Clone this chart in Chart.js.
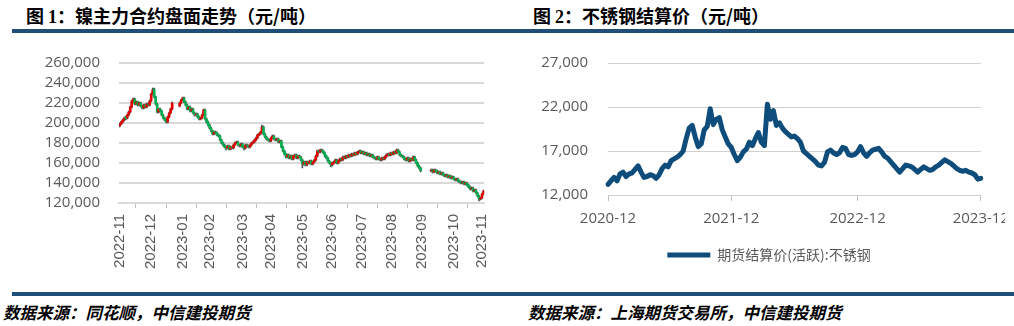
<!DOCTYPE html>
<html lang="zh-CN">
<head>
<meta charset="utf-8">
<title>镍主力合约与不锈钢结算价</title>
<script src="https://cdn.jsdelivr.net/npm/chart.js@4.4.0/dist/chart.umd.min.js"></script>
<style>
  html, body { margin: 0; padding: 0; background: #fff; }
  body { width: 1014px; height: 326px; position: relative; overflow: hidden; font-family: "Noto Sans CJK SC", sans-serif; }
  .title { position: absolute; top: 2px; font-size: 18px; font-weight: bold; color: #000; line-height: 26px; white-space: nowrap; }
  .title .num { font-family: "Liberation Serif", serif; }
  .rule { position: absolute; left: 12px; width: 1002px; height: 4px; background: #1F4E79; }
  .source { position: absolute; top: 300px; font-size: 16.5px; font-weight: bold; font-style: italic; color: #000; line-height: 24px; white-space: nowrap; }
  .chart-box { position: absolute; overflow: hidden; }
  canvas { display: block; }
</style>
</head>
<body>
<div class="title" style="left:26px">图 <span class="num">1</span>：镍主力合约盘面走势（元/吨）</div>
<div class="title" style="left:533px">图 <span class="num">2</span>：不锈钢结算价（元/吨）</div>
<div class="rule" style="top:29px"></div>

<div class="chart-box" style="left:20px; top:54px; width:486px; height:226px">
  <canvas id="chart-nickel" width="486" height="226"></canvas>
</div>
<div class="chart-box" style="left:520px; top:54px; width:485px; height:218px">
  <canvas id="chart-steel" width="498" height="218"></canvas>
</div>

<div class="rule" style="top:292px"></div>
<div class="source" style="left:3px">数据来源：同花顺，中信建投期货</div>
<div class="source" style="left:528px">数据来源：上海期货交易所，中信建投期货</div>

<script>
// 镍主力合约 日K（千元/吨），null 为休市空档
const nickelOpen = [
  197, 199, 201, 203, 206, 205, 208, 211, 216, 221,
  224, 219, 221, 218, 220, 217, 215, 218, 216, 219,
  218, 222, 229, 234, 226, 219, 211, 214, 212, 208,
  205, 203, 201, 206, 210, 214, null, null, null, null,
  217, 220, 223, 225, 221, 218, 214, 216, 212, 214,
  210, 208, 209, 206, 204, 205, 208, 213, 204, 201,
  198, 195, 192, 189, 191, 190, 188, 187, 183, 180,
  178, 176, 175, 177, 174, 176, 175, 178, 180, 181,
  178, 177, 179, 176, 175, 178, 177, 176, 178, 180,
  181, 183, 185, 188, 189, 191, 196, 189, 186, 184,
  183, 182, 185, 187, 184, 183, 184, 181, 182, 176,
  172, 169, 166, 168, 165, 167, 164, 167, 168, 165,
  167, 166, 163, 159, 161, 158, 161, 160, 162, 159,
  161, 163, 167, 172, 171, 173, 172, 170, 167, 165,
  162, 160, 158, 160, 161, 163, 160, 162, 164, 163,
  166, 165, 167, 166, 168, 167, 169, 168, 170, 169,
  171, 172, 170, 171, 169, 170, 168, 169, 167, 168,
  166, 165, 164, 166, 164, 163, 165, 164, 166, 168,
  169, 168, 170, 169, 171, 170, 173, 171, 168, 167,
  166, 164, 163, 165, 162, 164, 163, 166, 163, 160,
  157, 155, null, null, null, null, null, null, 152, 153,
  151, 153, 152, 150, 151, 149, 150, 148, 147, 148,
  146, 147, 145, 146, 144, 143, 144, 142, 141, 140,
  141, 139, 140, 138, 136, 134, 135, 132, 133, 130,
  127, 124, 125, 129,
];
const nickelClose = [
  199, 201, 203, 205, 204, 208, 211, 216, 222, 224,
  219, 221, 218, 220, 217, 215, 218, 216, 219, 218,
  222, 229, 233, 226, 219, 211, 214, 212, 208, 205,
  203, 201, 206, 210, 214, 220, null, null, null, null,
  220, 223, 225, 221, 218, 214, 216, 212, 214, 210,
  208, 209, 206, 204, 205, 208, 213, 204, 201, 198,
  195, 192, 189, 191, 190, 188, 187, 183, 180, 178,
  176, 175, 177, 174, 176, 175, 178, 180, 181, 178,
  177, 179, 176, 175, 178, 177, 176, 178, 180, 181,
  183, 185, 188, 189, 191, 196, 189, 186, 184, 183,
  182, 185, 187, 184, 183, 184, 181, 182, 176, 172,
  169, 166, 168, 165, 167, 164, 167, 168, 165, 167,
  166, 163, 159, 161, 158, 161, 160, 162, 159, 161,
  163, 167, 172, 171, 173, 172, 170, 167, 165, 162,
  160, 158, 160, 161, 163, 160, 162, 164, 163, 166,
  165, 167, 166, 168, 167, 169, 168, 170, 169, 171,
  172, 170, 171, 169, 170, 168, 169, 167, 168, 166,
  165, 164, 166, 164, 163, 165, 164, 166, 168, 169,
  168, 170, 169, 171, 170, 173, 171, 168, 167, 166,
  164, 163, 165, 162, 164, 163, 166, 163, 160, 157,
  155, 152, null, null, null, null, null, null, 153, 151,
  153, 152, 150, 151, 149, 150, 148, 147, 148, 146,
  147, 145, 146, 144, 143, 144, 142, 141, 140, 141,
  139, 140, 138, 136, 134, 135, 132, 133, 130, 127,
  124, 125, 129, 132,
];
const nickelHigh = [
  200, 202, 204, 206, 207, 209, 212, 217, 223, 225,
  225, 222, 222, 221, 221, 218, 219, 219, 220, 220,
  223, 230, 235, 235, 227, 220, 215, 215, 213, 209,
  206, 204, 207, 211, 215, 221, null, null, null, null,
  221, 224, 226, 226, 222, 219, 217, 217, 215, 215,
  211, 210, 210, 207, 206, 209, 214, 214, 205, 202,
  199, 196, 193, 192, 192, 191, 189, 188, 184, 181,
  179, 177, 178, 178, 177, 177, 179, 181, 182, 182,
  179, 180, 180, 177, 179, 179, 178, 179, 181, 182,
  184, 186, 189, 190, 192, 198, 197, 190, 187, 185,
  184, 186, 188, 188, 185, 185, 185, 183, 183, 177,
  173, 170, 169, 169, 168, 168, 168, 169, 169, 168,
  168, 167, 164, 162, 162, 162, 162, 163, 163, 162,
  164, 168, 173, 173, 174, 174, 173, 171, 168, 166,
  163, 161, 161, 162, 164, 164, 163, 165, 165, 167,
  167, 168, 168, 169, 169, 170, 170, 171, 171, 172,
  173, 173, 172, 172, 171, 171, 170, 170, 169, 169,
  167, 166, 167, 167, 165, 166, 166, 167, 169, 170,
  170, 171, 171, 172, 172, 174, 174, 172, 169, 168,
  167, 165, 166, 166, 165, 165, 167, 167, 164, 161,
  158, 156, null, null, null, null, null, null, 154, 154,
  154, 154, 153, 152, 152, 151, 151, 149, 149, 149,
  148, 148, 147, 147, 145, 145, 145, 143, 142, 142,
  142, 141, 141, 139, 137, 136, 136, 134, 134, 131,
  128, 126, 130, 133,
];
const nickelLow = [
  196, 198, 200, 202, 203, 204, 207, 210, 215, 220,
  218, 218, 217, 217, 216, 214, 214, 215, 215, 217,
  217, 221, 228, 225, 218, 210, 210, 211, 207, 204,
  202, 200, 200, 205, 209, 213, null, null, null, null,
  216, 219, 222, 220, 217, 213, 213, 211, 211, 209,
  207, 207, 205, 203, 203, 204, 207, 203, 200, 197,
  194, 191, 188, 188, 189, 187, 186, 182, 179, 177,
  175, 173, 174, 173, 173, 174, 174, 177, 179, 177,
  176, 176, 175, 173, 174, 176, 175, 175, 177, 179,
  180, 182, 184, 187, 188, 190, 188, 185, 183, 182,
  181, 181, 184, 183, 182, 182, 180, 180, 175, 171,
  168, 165, 165, 164, 164, 163, 163, 166, 164, 164,
  165, 162, 155, 158, 157, 157, 159, 159, 158, 158,
  160, 162, 166, 170, 170, 171, 169, 166, 164, 161,
  159, 156, 157, 159, 160, 159, 159, 161, 162, 162,
  164, 164, 165, 165, 166, 166, 167, 167, 168, 168,
  170, 169, 169, 168, 168, 167, 167, 166, 166, 165,
  164, 163, 163, 163, 162, 162, 163, 163, 165, 167,
  167, 167, 168, 168, 169, 169, 170, 167, 166, 165,
  163, 162, 162, 161, 161, 162, 162, 162, 159, 156,
  154, 151, null, null, null, null, null, null, 151, 150,
  150, 151, 149, 149, 148, 148, 147, 146, 146, 145,
  145, 144, 144, 143, 142, 142, 141, 140, 139, 139,
  138, 138, 137, 135, 133, 133, 131, 131, 129, 126,
  122, 123, 124, 128,
];
const nickelMonthLabels = [
  "2022-11", "2022-12", "2023-01", "2023-02", "2023-03", "2023-04", "2023-05",
  "2023-06", "2023-07", "2023-08", "2023-09", "2023-10", "2023-11",
];
const nickelMonthStart = [0, 21, 42, 60, 82, 101, 122, 142, 162, 182, 202, 223, 242];
const nickelTicks = [120000, 140000, 160000, 180000, 200000, 220000, 240000, 260000];

// 不锈钢 期货结算价(活跃)，元/吨
const steelSettle = [
  13200, 13600, 14000, 13600, 14400, 14600, 14100, 14400, 14500, 14900,
  15300, 14600, 14000, 14100, 14300, 14200, 13900, 14300, 15000, 15400,
  15200, 15900, 16100, 16300, 16600, 17000, 18400, 19600, 19900, 18600,
  17500, 17800, 19400, 19800, 21800, 20000, 20600, 20800, 19400, 18600,
  17800, 17400, 16600, 15900, 16300, 16900, 17200, 18000, 17600, 18400,
  19100, 18000, 17600, 22300, 20600, 21600, 19900, 20200, 19600, 19200,
  18900, 18600, 18700, 18400, 18000, 17000, 16700, 16400, 16100, 15800,
  15400, 15300, 15700, 16900, 17100, 16800, 16600, 16800, 17400, 17300,
  16600, 16500, 16600, 16900, 17500, 16800, 16400, 16800, 17100, 17200,
  17300, 16900, 16400, 16200, 15800, 15400, 15000, 14600, 15000, 15400,
  15300, 15200, 14900, 14600, 14900, 15200, 15000, 14800, 14900, 15200,
  15400, 15700, 16000, 15800, 15600, 15300, 15000, 14800, 14700, 14800,
  14600, 14500, 14300, 13800, 13900,
];
const steelTickLabels = ["2020-12", "2021-12", "2022-12", "2023-12"];
const steelTickIndex = [0, 41, 83, 124];
const steelSeriesName = "期货结算价(活跃):不锈钢";

const UP = "#E60000";
const DOWN = "#00B050";
const WICK = "#4D4D4D";
const NAVY = "#0E4C7C";
const GRID = "#D9D9D9";
const TICK_TEXT = "#595959";
const CLEAR = "rgba(0,0,0,0)";

function formatThousands(value) {
  return Number(value).toLocaleString("en-US");
}

function renderNickel() {
  const ctx = document.getElementById("chart-nickel");
  const slots = nickelClose.map((_, i) => String(i));
  const bodies = nickelOpen.map((o, i) => (o == null ? null : [o * 1000, nickelClose[i] * 1000]));
  const wicks = nickelLow.map((l, i) => (l == null ? null : [l * 1000, nickelHigh[i] * 1000]));
  const bodyColors = nickelOpen.map((o, i) => (nickelClose[i] >= o ? UP : DOWN));

  new Chart(ctx, {
    type: "bar",
    data: {
      labels: slots,
      datasets: [
        {
          data: bodies,
          backgroundColor: bodyColors,
          borderWidth: 0,
          barThickness: 2,
          minBarLength: 1,
          grouped: false,
        },
        {
          data: wicks,
          backgroundColor: WICK,
          borderWidth: 0,
          barThickness: 1,
          grouped: false,
        },
      ],
    },
    options: {
      responsive: false,
      animation: false,
      layout: { padding: 0 },
      plugins: { legend: { display: false }, tooltip: { enabled: false } },
      scales: {
        x: {
          offset: true,
          grid: { drawOnChartArea: false, drawTicks: true, tickLength: 5, color: "#BFBFBF", lineWidth: 1 },
          border: { display: true, color: GRID, width: 2 },
          ticks: {
            autoSkip: false,
            minRotation: 90,
            maxRotation: 90,
            padding: 6,
            color: TICK_TEXT,
            font: { family: "'Liberation Sans', Arial", size: 15 },
            callback: (value, index) => {
              const k = nickelMonthStart.indexOf(index);
              return k >= 0 ? nickelMonthLabels[k] : null;
            },
          },
          afterFit: (scale) => { scale.height = 77; },
        },
        y: {
          min: 120000,
          max: 260000,
          afterBuildTicks: (scale) => { scale.ticks = nickelTicks.map((v) => ({ value: v })); },
          // 透明刻度线占位，让标签与绘图区留出间距
          grid: { color: GRID, lineWidth: 2, drawTicks: true, tickLength: 19, tickColor: CLEAR },
          border: { display: false },
          ticks: {
            autoSkip: false,
            padding: 0,
            color: TICK_TEXT,
            font: { family: "'Open Sans'", size: 15 },
            callback: (value) => formatThousands(value),
          },
          afterFit: (scale) => { scale.width = 99; },
        },
      },
    },
  });
}

function renderSteel() {
  const ctx = document.getElementById("chart-steel");
  const slots = steelSettle.map((_, i) => String(i));

  new Chart(ctx, {
    type: "line",
    data: {
      labels: slots,
      datasets: [
        {
          label: steelSeriesName,
          data: steelSettle,
          borderColor: NAVY,
          backgroundColor: NAVY,
          borderWidth: 5,
          borderCapStyle: "round",
          borderJoinStyle: "round",
          pointRadius: 0,
          tension: 0,
        },
      ],
    },
    options: {
      responsive: false,
      animation: false,
      layout: { padding: 0 },
      plugins: {
        tooltip: { enabled: false },
        legend: {
          position: "bottom",
          labels: {
            usePointStyle: true,
            pointStyle: "line",
            pointStyleWidth: 43,
            padding: 10,
            color: TICK_TEXT,
            font: { family: "'Noto Sans CJK SC'", size: 14 },
          },
        },
      },
      scales: {
        x: {
          offset: false,
          grid: { drawOnChartArea: false, drawTicks: true, tickLength: 6, color: "#BFBFBF", lineWidth: 1 },
          border: { display: true, color: "#D0D0D0", width: 1 },
          ticks: {
            autoSkip: false,
            maxRotation: 0,
            minRotation: 0,
            padding: 9,
            color: TICK_TEXT,
            font: { family: "'Open Sans'", size: 15 },
            callback: (value, index) => {
              const k = steelTickIndex.indexOf(index);
              return k >= 0 ? steelTickLabels[k] : null;
            },
          },
          afterFit: (scale) => { scale.height = 43; },
        },
        y: {
          min: 12000,
          max: 27000,
          ticks: {
            stepSize: 5000,
            padding: 0,
            color: TICK_TEXT,
            font: { family: "'Open Sans'", size: 15 },
            callback: (value) => formatThousands(value),
          },
          grid: { color: "#D0D0D0", lineWidth: 1, drawTicks: true, tickLength: 20, tickColor: CLEAR },
          border: { display: false },
          afterFit: (scale) => { scale.width = 88; },
        },
      },
    },
  });
}

document.addEventListener("DOMContentLoaded", () => {
  renderNickel();
  renderSteel();
});
</script>
</body>
</html>
